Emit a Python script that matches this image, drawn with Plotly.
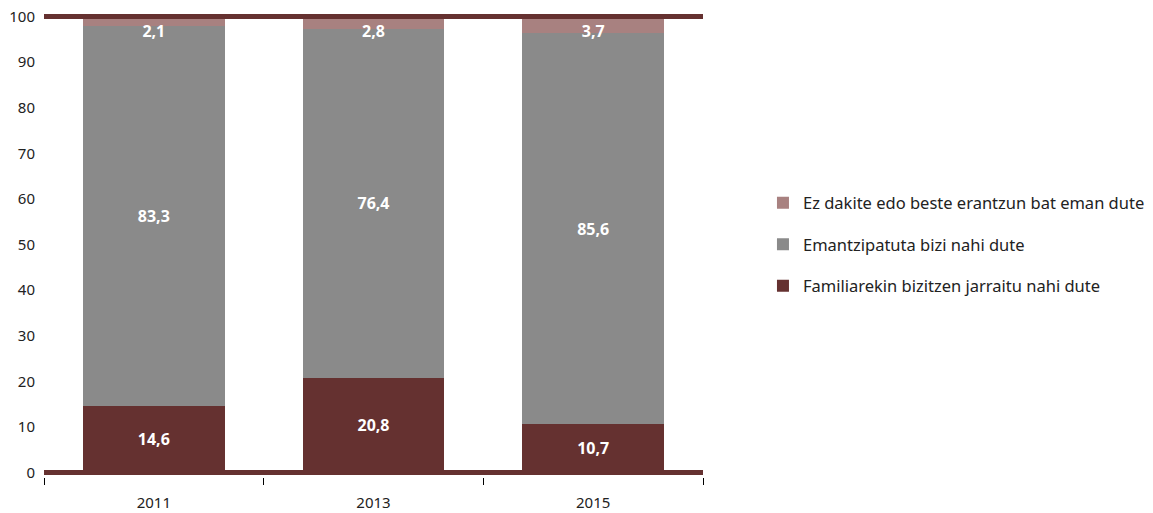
import plotly.graph_objects as go

years = ["2011", "2013", "2015"]
familia = [14.6, 20.8, 10.7]
emantzipatuta = [83.3, 76.4, 85.6]
ez_dakite = [2.1, 2.8, 3.7]

names = ["Familiarekin bizitzen jarraitu nahi dute",
         "Emantzipatuta bizi nahi dute",
         "Ez dakite edo beste erantzun bat eman dute"]
colors = ["#653130", "#8a8a8a", "#a88180"]
series = [familia, emantzipatuta, ez_dakite]
anchors = ["middle", "middle", "end"]
ranks = [3, 2, 1]

FONT = "Noto Sans"

fig = go.Figure()
for i, (name, vals, col, anc, rk) in enumerate(zip(names, series, colors, anchors, ranks)):
    fig.add_trace(go.Bar(
        x=years, y=vals, name=name, marker=dict(color=col, line=dict(width=0)),
        text=[f"{v:.1f}".replace(".", ",") for v in vals],
        textposition="inside", insidetextanchor=anc,
        textfont=dict(color="white", size=16, family=FONT, weight="bold"),
        legendgroup=f"g{i}", legendrank=rk, hoverinfo="skip",
    ))

for yv in [0, 100]:
    fig.add_shape(type="line", xref="paper", yref="y", x0=0, x1=1, y0=yv, y1=yv,
                  line=dict(color="#653130", width=5), layer="above")

fig.update_layout(
    width=1153, height=513,
    barmode="stack", bargap=0.355,
    plot_bgcolor="white", paper_bgcolor="white",
    margin=dict(l=44, r=450, t=12, b=36, autoexpand=False),
    font=dict(family=FONT, size=14, color="#222"),
    uniformtext=dict(minsize=16, mode="show"),
    showlegend=True,
    legend=dict(x=1.091, y=0.5, xanchor="left", yanchor="middle",
                traceorder="grouped", tracegroupgap=17,
                font=dict(size=16.5, color="#222", family=FONT),
                itemwidth=30),
    xaxis=dict(showgrid=False, ticks="outside", tickson="boundaries", ticklen=7,
               tickcolor="#000", showline=False, zeroline=False, automargin=False,
               ticklabelstandoff=15, tickfont=dict(size=15, color="#222")),
    yaxis=dict(range=[-1, 101], tickvals=list(range(0, 101, 10)), showgrid=False,
               zeroline=False, showline=False, ticks="", ticklabelstandoff=8,
               automargin=False, tickfont=dict(size=15, color="#222")),
)

fig.write_html("out.html", config={"displayModeBar": False},
               post_script="document.body.style.margin='0';document.body.style.padding='0';")
